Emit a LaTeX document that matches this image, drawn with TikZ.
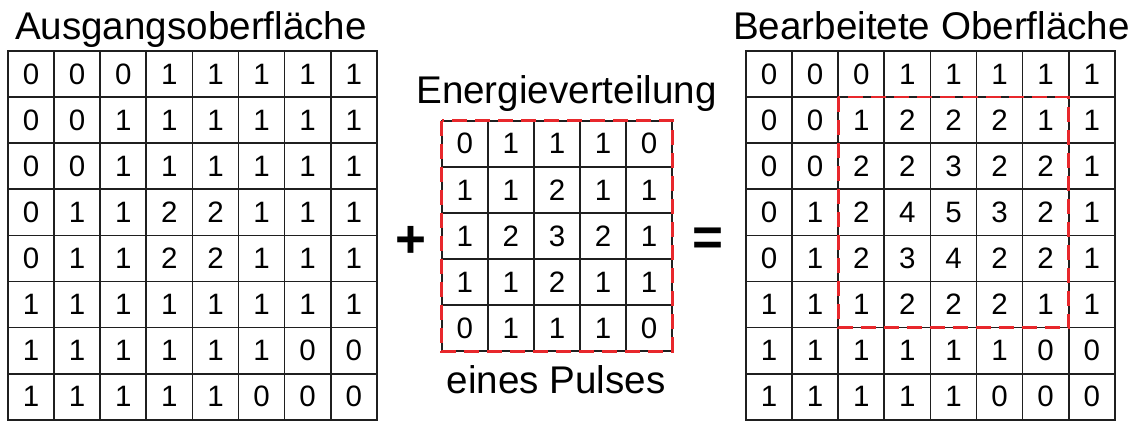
\documentclass[tikz,border=0pt]{standalone}
\usepackage{fontspec}
\setmainfont{Liberation Sans}
\definecolor{dashred}{RGB}{232,40,44}
\begin{document}
\begin{tikzpicture}[x=1pt,y=-1pt,
  cell/.style={draw=black!88, line width=1.7pt, minimum size=46.1pt, inner sep=0pt, outer sep=0pt,
    anchor=north west, font=\fontsize{29.5}{31}\selectfont},
  title/.style={anchor=base, inner sep=0pt, font=\fontsize{38.6}{40}\selectfont},
  op/.style={inner sep=0pt, font=\fontsize{53}{55}\selectfont\bfseries},
  reddash/.style={draw=dashred, line width=2.6pt, dash pattern=on 15pt off 8pt}]
\useasboundingbox (0,0) rectangle (1139,421);
\def\cs{46.1}
% left grid
\foreach \row [count=\r from 0] in {{0,0,0,1,1,1,1,1},{0,0,1,1,1,1,1,1},{0,0,1,1,1,1,1,1},{0,1,1,2,2,1,1,1},{0,1,1,2,2,1,1,1},{1,1,1,1,1,1,1,1},{1,1,1,1,1,1,0,0},{1,1,1,1,1,0,0,0}}{
  \foreach \v [count=\c from 0] in \row {
    \node[cell] (L-\r-\c) at ({8+\c*\cs},{51+\r*\cs}) {\v};
  }
}
% middle grid
\foreach \row [count=\r from 0] in {{0,1,1,1,0},{1,1,2,1,1},{1,2,3,2,1},{1,1,2,1,1},{0,1,1,1,0}}{
  \foreach \v [count=\c from 0] in \row {
    \node[cell] (M-\r-\c) at ({441.7+\c*\cs},{120.7+\r*\cs}) {\v};
  }
}
% right grid
\foreach \row [count=\r from 0] in {{0,0,0,1,1,1,1,1},{0,0,1,2,2,2,1,1},{0,0,2,2,3,2,2,1},{0,1,2,4,5,3,2,1},{0,1,2,3,4,2,2,1},{1,1,1,2,2,2,1,1},{1,1,1,1,1,1,0,0},{1,1,1,1,1,0,0,0}}{
  \foreach \v [count=\c from 0] in \row {
    \node[cell] (R-\r-\c) at ({746+\c*\cs},{51+\r*\cs}) {\v};
  }
}
\draw[reddash] (M-0-0.north west) rectangle (M-4-4.south east);
\draw[reddash] (R-1-2.north west) rectangle (R-5-6.south east);
% titles
\node[title] (tL) at (191,39) {Ausgangsoberfläche};
\node[title] (tM) at (566.5,103) {Energieverteilung};
\node[title] (tM2) at (556,393) {eines Pulses};
\node[title] (tR) at (931.5,39) {Bearbeitete Oberfläche};
% operators
\node[op] (plus) at (411,241.5) {+};
\node[op] (eq) at (708,242) {=};
\end{tikzpicture}
\end{document}
